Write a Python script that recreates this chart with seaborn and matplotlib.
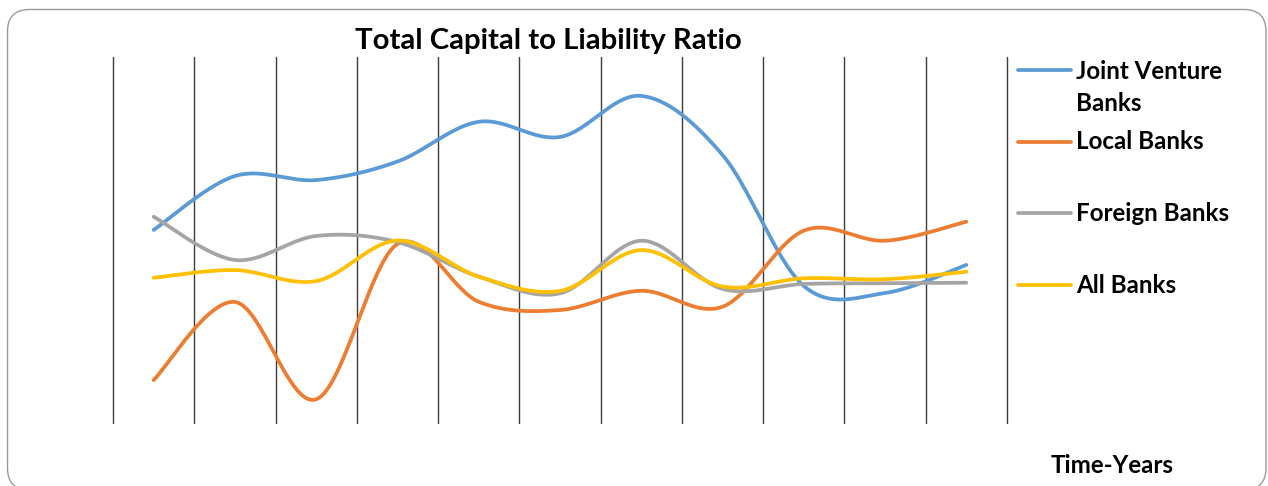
import numpy as np
import pandas as pd
import matplotlib
matplotlib.use("Agg")
import matplotlib.pyplot as plt
import seaborn as sns
from matplotlib.patches import FancyBboxPatch
from matplotlib.lines import Line2D

# ---------------- data ----------------
periods = list(range(11))
joint_venture = [10.55, 13.49, 13.27, 14.28, 16.45, 15.62, 17.86, 14.64, 7.49, 7.11, 8.64]
local_banks = [2.36, 6.62, 1.31, 9.78, 6.63, 6.18, 7.23, 6.36, 10.51, 9.96, 11.00]
foreign_banks = [11.27, 8.91, 10.22, 9.89, 8.00, 7.09, 9.96, 7.33, 7.60, 7.64, 7.67]
all_banks = [7.94, 8.36, 7.76, 9.97, 8.00, 7.22, 9.45, 7.46, 7.91, 7.86, 8.27]
series_names = ["Joint Venture Banks", "Local Banks", "Foreign Banks", "All Banks"]
legend_labels = ["Joint Venture\nBanks", "Local Banks", "Foreign Banks", "All Banks"]
title = "Total Capital to Liability Ratio"
x_label = "Time-Years"

colors = ["#5B9BD5", "#ED7D31", "#A5A5A5", "#FFC000"]
FONT = ["Lato", "DejaVu Sans"]

W, H = 1268, 486


def smooth_curve(xs, ys, n=40):
    """Excel-style smoothed line (Catmull-Rom Bezier through the points)."""
    P = np.column_stack([xs, ys]).astype(float)
    E = np.vstack([P[0], P, P[-1]])
    parts = []
    for i in range(len(P) - 1):
        p0, p1, p2, p3 = E[i], E[i + 1], E[i + 2], E[i + 3]
        c1 = p1 + (p2 - p0) / 6.0
        c2 = p2 - (p3 - p1) / 6.0
        t = np.linspace(0, 1, n, endpoint=(i == len(P) - 2))[:, None]
        parts.append((1 - t) ** 3 * p1 + 3 * (1 - t) ** 2 * t * c1
                     + 3 * (1 - t) * t ** 2 * c2 + t ** 3 * p2)
    return np.vstack(parts)


frames = []
for name, vals in zip(series_names, [joint_venture, local_banks, foreign_banks, all_banks]):
    c = smooth_curve(periods, vals)
    frames.append(pd.DataFrame({"x": c[:, 0], "y": c[:, 1], "series": name}))
df = pd.concat(frames, ignore_index=True)

sns.set_style("white")
plt.rcParams["font.family"] = FONT

fig = plt.figure(figsize=(W / 100, H / 100), dpi=100)
fig.patch.set_facecolor("white")


def fx(px):
    return px / W


def fy(py):
    return 1 - py / H


# rounded outer border
border = FancyBboxPatch((7.5 / 100, (H - 490) / 100), (1266 - 7.5) / 100, (490 - 9.5) / 100,
                        boxstyle="round,pad=0,rounding_size=0.22",
                        transform=fig.dpi_scale_trans, facecolor="none",
                        edgecolor="#9A9A9A", linewidth=1.0, zorder=-5)
fig.patches.append(border)

ax = fig.add_axes([fx(113), fy(423.3), fx(1007) - fx(113), fy(56.7) - fy(423.3)])
ax.set_facecolor("none")
ax.set_zorder(2)

sns.lineplot(data=df, x="x", y="y", hue="series", hue_order=series_names,
             palette=colors, sort=False, estimator=None, linewidth=2.7,
             legend=False, ax=ax)
for ln in ax.lines:
    ln.set_solid_capstyle("round")

ax.set_xlim(-0.5, 10.5)
ax.set_ylim(0, 20)
ax.set_xticks(np.arange(-0.5, 10.6, 1.0))
ax.set_yticks([])
ax.grid(axis="x", color="#3C3C3C", linewidth=1.0)
for gl in ax.get_xgridlines():
    gl.set_clip_on(False)
ax.set_axisbelow(True)
ax.tick_params(length=0, labelbottom=False, labelleft=False)
for s in ax.spines.values():
    s.set_visible(False)
ax.set_xlabel("")
ax.set_ylabel("")

# title
fig.text(fx(548.5), fy(49.3), title, ha="center", va="baseline",
         fontsize=21.2, fontweight="bold", family=FONT, color="black")

# legend (Excel style, right side)
line_y = [70, 141.7, 213.3, 285]
text_base = [111, 149.3, 220.7, 292.7]   # baseline of the last text line
for lab, col, ly, tb in zip(legend_labels, colors, line_y, text_base):
    fig.add_artist(Line2D([fx(1018), fx(1071)], [fy(ly), fy(ly)], color=col,
                          linewidth=2.7, solid_capstyle="round",
                          transform=fig.transFigure))
    fig.text(fx(1076), fy(tb), lab, ha="left", va="baseline", fontsize=17.4,
             fontweight="bold", family=FONT, color="black", linespacing=1.49)

# axis label
fig.text(fx(1112.5), fy(473.3), x_label, ha="center", va="baseline", fontsize=17.4,
         fontweight="bold", family=FONT, color="black")

fig.savefig("out.png", dpi=100, facecolor="white")
